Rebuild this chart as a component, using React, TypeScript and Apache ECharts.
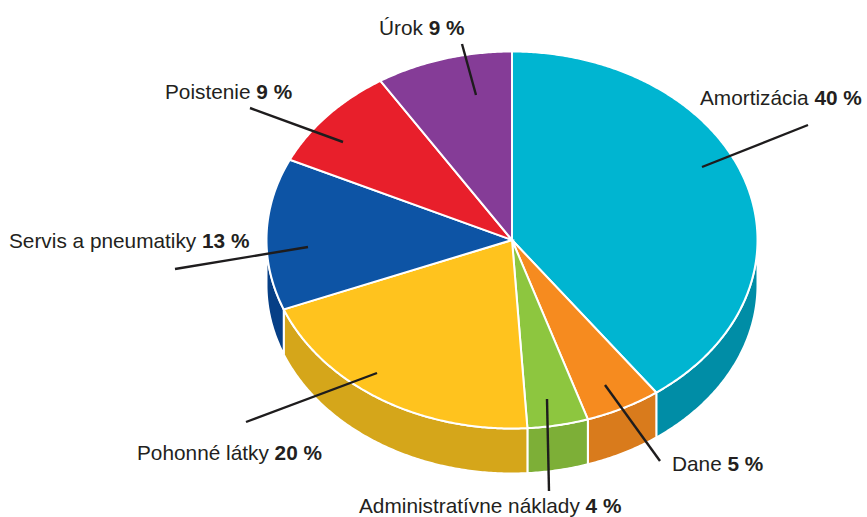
import React, { useEffect, useRef } from "react";
import * as echarts from "echarts";

const categories = ["Amortizácia", "Dane", "Administratívne náklady", "Pohonné látky", "Servis a pneumatiky", "Poistenie", "Úrok"];
const values = [40, 5, 4, 20, 13, 9, 9];
const topColors = ["#00B5D1", "#F68B1F", "#8DC63F", "#FFC31E", "#0D54A5", "#E81F2B", "#853C97"];
const sideColors = ["#008DA6", "#D97B1C", "#7DAF37", "#D5A61A", "#063F86", "#B5141E", "#672C75"];

// layout of the annotations, one row per category
const labelAnchors = [[700, 97], [672, 463], [359, 505], [137, 452], [9, 240], [165, 91], [379, 27]];
const leaderSegments = [
  [702, 167, 808, 125],
  [605, 385, 660, 461],
  [547, 399, 549, 491],
  [377, 373, 246, 422],
  [308, 247, 175, 269],
  [343, 142, 250, 108],
  [476, 95, 462, 44],
];

const CX = 512;
const CY = 240;
const RX = 245.5;
const RY = 188.5;
const DEPTH = 45;
const TEXT = "#231F20";
const FONT = "'Liberation Sans', Arial, sans-serif";
const FONT_SIZE = 20.8;

const total = values.reduce((a, b) => a + b, 0);
const startOf = (i: number) => (values.slice(0, i).reduce((a, b) => a + b, 0) / total) * 360;

// angle is measured in degrees clockwise from the top of the ellipse
const pointAt = (deg: number, dy = 0): [number, number] => {
  const r = (deg * Math.PI) / 180;
  return [CX + RX * Math.sin(r), CY - RY * Math.cos(r) + dy];
};

const arc = (from: number, to: number, dy = 0) => {
  const pts: [number, number][] = [];
  const n = Math.max(2, Math.ceil(Math.abs(to - from) * 2));
  for (let k = 0; k <= n; k++) pts.push(pointAt(from + ((to - from) * k) / n, dy));
  return pts;
};

const renderWall = (params: any, api: any) => {
  const i = params.dataIndex;
  const a = startOf(i);
  const b = a + (api.value(0) / total) * 360;
  // only the front half of the rim (90° to 270°) can be seen
  const from = Math.max(a, 90);
  const to = Math.min(b, 270);
  if (to <= from) return { type: "group", children: [] };
  return {
    type: "polygon",
    shape: { points: [...arc(from, to, 0), ...arc(to, from, DEPTH)] },
    style: { fill: sideColors[i], stroke: "#fff", lineWidth: 2, lineJoin: "miter" },
  };
};

const renderTop = (params: any, api: any) => {
  const i = params.dataIndex;
  const a = startOf(i);
  const b = a + (api.value(0) / total) * 360;
  return {
    type: "polygon",
    shape: { points: [[CX, CY], ...arc(a, b)] },
    style: { fill: topColors[i], stroke: "#fff", lineWidth: 2, lineJoin: "miter" },
  };
};

const renderNote = (params: any, api: any) => {
  const i = params.dataIndex;
  const [x1, y1, x2, y2] = leaderSegments[i];
  const [lx, ly] = labelAnchors[i];
  return {
    type: "group",
    children: [
      {
        type: "line",
        shape: { x1, y1, x2, y2 },
        style: { stroke: "#1E1C1D", lineWidth: 2.4 },
      },
      {
        type: "text",
        x: lx,
        y: ly,
        style: {
          text: `{n|${categories[i]} }{v|${api.value(0)} %}`,
          verticalAlign: "middle",
          align: "left",
          fill: TEXT,
          font: `${FONT_SIZE}px ${FONT}`,
          rich: {
            n: { fontFamily: FONT, fontSize: FONT_SIZE, fill: TEXT, color: TEXT },
            v: { fontFamily: FONT, fontSize: FONT_SIZE, fontWeight: "bold", fill: TEXT, color: TEXT },
          },
        },
      },
    ],
  };
};

export default function App() {
  const ref = useRef<HTMLDivElement>(null);
  useEffect(() => {
    document.body.style.margin = "0";
    const chart = echarts.init(ref.current!, null, { renderer: "svg" });
    const data = values.map((v, i) => ({ name: categories[i], value: [v] }));
    chart.setOption({
      animation: false,
      backgroundColor: "#fff",
      series: [
        { type: "custom", coordinateSystem: "none", renderItem: renderWall, data, z: 1, silent: true },
        { type: "custom", coordinateSystem: "none", renderItem: renderTop, data, z: 2, silent: true },
        { type: "custom", coordinateSystem: "none", renderItem: renderNote, data, z: 3, silent: true },
      ],
    });
    return () => chart.dispose();
  }, []);
  return <div ref={ref} style={{ width: 867, height: 517 }} />;
}
